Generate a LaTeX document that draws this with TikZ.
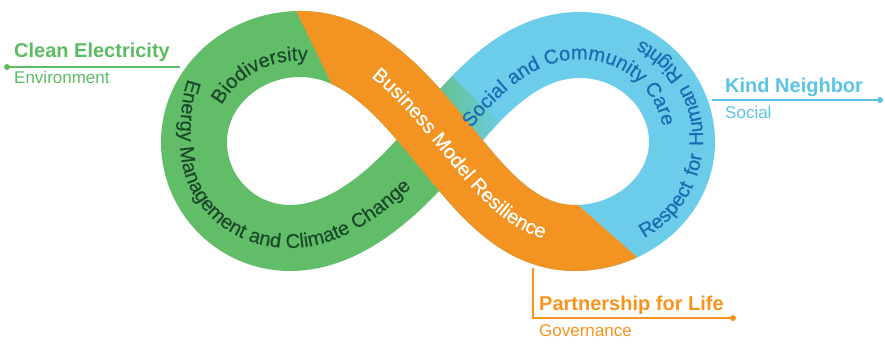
\documentclass[tikz,border=0pt]{standalone}
\usepackage{fontspec}
\setmainfont{Liberation Sans}
\newfontfamily\bandfamily[FakeBold=0.5]{Liberation Sans}
\usetikzlibrary{decorations.text,fadings}

\definecolor{ringgreen}{HTML}{62BD69}
\definecolor{ringorange}{HTML}{F39422}
\definecolor{ringblue}{HTML}{6CCDEB}
\definecolor{txtgreen}{HTML}{1B4A2B}
\definecolor{txtblue}{HTML}{1C6CB3}
\definecolor{lblgreen}{HTML}{5DBB63}
\definecolor{lblblue}{HTML}{5BC3E6}
\definecolor{lblorange}{HTML}{F7941D}
\newcommand{\bandfont}{\bandfamily\fontsize{20}{20}\selectfont}
\tikzfading[name=greenfade, left color=transparent!0, right color=transparent!100]

\begin{document}
\begin{tikzpicture}[x=1pt,y=-1pt,
    band/.style={line width=66pt},
    alongtext/.style={decorate,decoration={text along path,text align=center,text={#1}}},
    spreadtext/.style={decorate,decoration={text along path,text align={fit to path stretching spaces},text={#1}}},
    headline/.style={anchor=base west,inner sep=0pt,font=\fontsize{20}{20}\selectfont\bfseries},
    subline/.style={anchor=base west,inner sep=0pt,font=\fontsize{17}{17}\selectfont},
    pin/.style={circle,fill,inner sep=0pt,minimum size=6pt},
    leader/.style={line width=1.1pt}]
  \useasboundingbox (0,0) rectangle (885,347);

  % infinity band
  \coordinate (X) at (440,140);
  \draw[band,ringblue] (X) .. controls (478,94) and (520,45) .. (580,45)
    .. controls (636,45) and (682,89) .. (682,142)
    .. controls (682,195) and (633,238) .. (575,238)
    .. controls (515,238) and (478,186) .. (X);
  \draw[band,ringgreen] (X) .. controls (402,94) and (360,44) .. (300,44)
    .. controls (242,44) and (194,88) .. (194,142)
    .. controls (194,195) and (237,238) .. (290,238)
    .. controls (350,238) and (402,186) .. (X);
  \draw[band,ringgreen,path fading=greenfade] (X) .. controls (451.4,126.2) and (463.2,112.1) .. (475.7,99.2);
  \begin{scope}
    \clip (281,-20) -- (520,-20) -- (515.7,150) -- (685.5,300) -- (437,300) -- cycle;
    \draw[band,ringorange] (194,142) .. controls (194,88) and (242,44) .. (300,44)
      .. controls (360,44) and (402,94) .. (X)
      .. controls (478,186) and (515,238) .. (575,238)
      .. controls (633,238) and (682,195) .. (682,142);
  \end{scope}

  % texts on the band
  \path[alongtext={|\bandfont\color{txtgreen}|Biodiversity}]
    (212,141.8) .. controls (212,97) and (251.9,60.5) .. (300,60.5)
    .. controls (318,60.5) and (333,63) .. (345,68);
  \path[decorate,decoration={text along path,text align=left,
      text={|\bandfont\color{txtgreen}|Energy Management and Climate Change}}]
    (188,79) .. controls (182,95) and (180,117) .. (180,142)
    .. controls (180,204) and (229,248) .. (290,248)
    .. controls (355,248) and (412,192) .. (452,142);
  \path[alongtext={|\bandfont\color{txtblue}|Social and Community Care}]
    (461,140.2) .. controls (493.3,101) and (529,59.4) .. (580,59.4)
    .. controls (627.6,59.4) and (664,96.8) .. (664,141.8);
  \path[spreadtext={|\bandfont\color{txtblue}|Respect for Human Rights}]
    (592,140) ++(62:111) arc[start angle=62, end angle=-64, radius=111];
  \path[decorate,decoration={text along path,text align={left,left indent=83pt},
      text={|\bandfont\color{white}|Business Model Resilience}}]
    (295,48) .. controls (355,48) and (397,98) .. (435,144)
    .. controls (473,190) and (510,242) .. (570,242);

  % labels
  \node[headline,lblgreen] (clean) at (14,58) {Clean Electricity};
  \node[subline,lblgreen] (env) at (14,84) {Environment};
  \node[pin,lblgreen] (envpin) at (7,67) {};
  \coordinate (envend) at (180,67);
  \draw[leader,lblgreen] (envpin.center) -- (envend);

  \node[headline,lblblue] (kind) at (725,93) {Kind Neighbor};
  \node[subline,lblblue] (soc) at (725,119) {Social};
  \node[pin,lblblue] (socpin) at (880,100) {};
  \coordinate (socend) at (712,100);
  \draw[leader,lblblue] (socend) -- (socpin.center);

  \node[headline,lblorange] (partner) at (539,310) {Partnership for Life};
  \node[subline,lblorange] (gov) at (539,336) {Governance};
  \node[pin,lblorange] (govpin) at (733,318) {};
  \coordinate (govtop) at (533,268);
  \draw[leader,lblorange] (govtop) -- (533,318) -- (govpin.center);
\end{tikzpicture}
\end{document}
